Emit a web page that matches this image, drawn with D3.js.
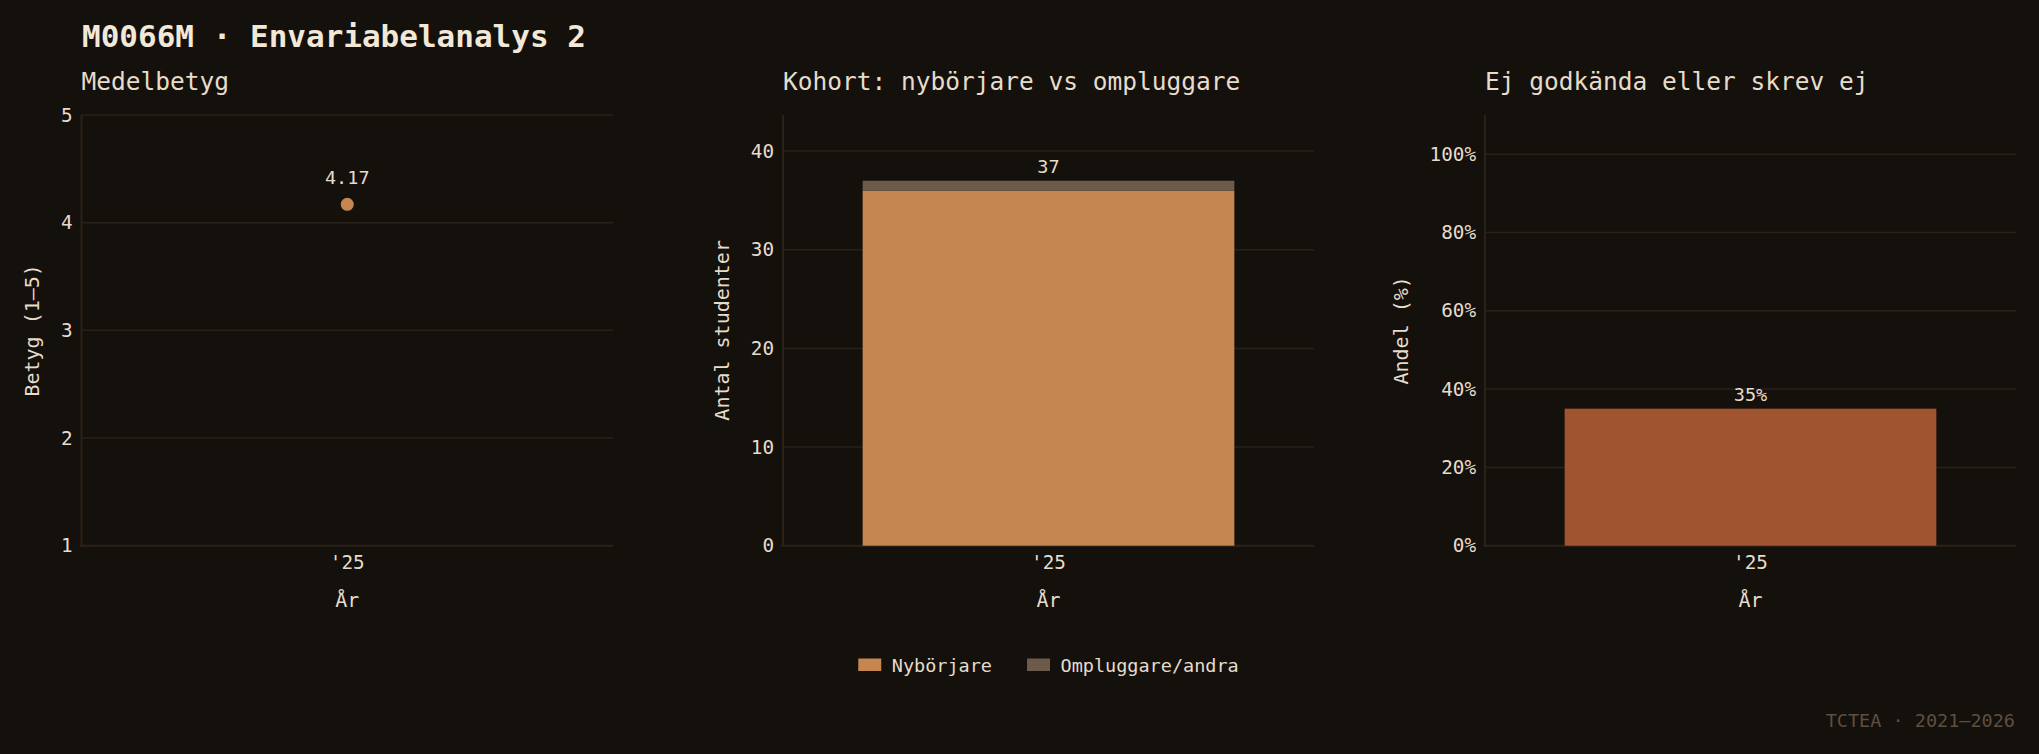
<!DOCTYPE html>
<html>
<head>
<meta charset="utf-8">
<script src="https://cdn.jsdelivr.net/npm/d3@7"></script>
<style>
  html, body { margin: 0; padding: 0; background: #14100b; }
  svg { display: block; }
  text { font-family: "DejaVu Sans Mono", monospace; }
</style>
</head>
<body>
<svg id="chart" width="2039" height="754"></svg>
<script>
// ---- Data ----
const years = ["'25"];
const meanGrade = [4.17];
const newcomers = [36];
const others = [1];
const failShare = [0.35];
const gradeTicks = [1, 2, 3, 4, 5];
const countTicks = [0, 10, 20, 30, 40];
const shareTicks = [0, 0.2, 0.4, 0.6, 0.8, 1.0];
const seriesNames = ["Nybörjare", "Ompluggare/andra"];

// ---- Style ----
const C = {
  bg: "#14100b", text: "#e6dccb", title: "#f2e8d8", grid: "#2a2119",
  orange: "#c6864f", brown: "#6c5b4a", red: "#a05430", footer: "#5e4f40"
};
const W = 2039, H = 754;
const plotTop = 115, plotBot = 545.7;
const panels = [
  { x0: 81.5, x1: 613 },
  { x0: 783, x1: 1314 },
  { x0: 1485, x1: 2016 }
];

const svg = d3.select("#chart");
svg.append("rect").attr("width", W).attr("height", H).attr("fill", C.bg);

svg.append("text").attr("x", 82).attr("y", 46.5)
  .attr("fill", C.title).attr("font-size", 31).attr("font-weight", "bold")
  .text("M0066M · Envariabelanalys 2");

function panelFrame(p, title, y, ticks, fmt, yTitle) {
  const g = svg.append("g");
  g.append("text").attr("x", p.x0).attr("y", 90).attr("fill", C.text)
    .attr("font-size", 24.5).text(title);
  // grid
  g.selectAll("line.grid").data(ticks).join("line")
    .attr("x1", p.x0).attr("x2", p.x1)
    .attr("y1", d => y(d)).attr("y2", d => y(d))
    .attr("stroke", C.grid).attr("stroke-width", 1.5);
  // axis
  const ax = g.append("g").attr("transform", `translate(${p.x0},0)`)
    .call(d3.axisLeft(y).tickValues(ticks).tickFormat(fmt).tickSize(0).tickPadding(9));
  ax.select(".domain").remove();
  ax.selectAll("text").attr("fill", C.text).attr("font-size", 19.3)
    .attr("font-family", "DejaVu Sans Mono");
  g.append("line").attr("x1", p.x0).attr("x2", p.x0)
    .attr("y1", plotTop).attr("y2", plotBot).attr("stroke", C.grid).attr("stroke-width", 2);
  g.append("line").attr("x1", p.x0 - 2).attr("x2", p.x1)
    .attr("y1", plotBot).attr("y2", plotBot).attr("stroke", C.grid).attr("stroke-width", 2);
  let minX = p.x0;
  ax.selectAll("text").each(function () {
    const b = this.getBBox();
    minX = Math.min(minX, p.x0 + b.x);
  });
  const cy = (plotTop + plotBot) / 2;
  g.append("text").attr("transform", `translate(${minX - 29},${cy}) rotate(-90)`)
    .attr("text-anchor", "middle").attr("dominant-baseline", "central")
    .attr("fill", C.text).attr("font-size", 20).text(yTitle);
  // x axis
  const x = d3.scaleBand().domain(years).range([p.x0, p.x1])
    .paddingInner(0.3).paddingOuter(0.15);
  g.selectAll("text.xt").data(years).join("text")
    .attr("x", d => x(d) + x.bandwidth() / 2).attr("y", 569)
    .attr("text-anchor", "middle").attr("fill", C.text).attr("font-size", 19.3).text(d => d);
  g.append("text").attr("x", (p.x0 + p.x1) / 2).attr("y", 607)
    .attr("text-anchor", "middle").attr("fill", C.text).attr("font-size", 20).text("År");
  return { g, x };
}

// Panel 1: mean grade
{
  const p = panels[0];
  const y = d3.scaleLinear().domain([1, 5]).range([plotBot, plotTop]);
  const { g, x } = panelFrame(p, "Medelbetyg", y, gradeTicks, d3.format("d"), "Betyg (1–5)");
  const pts = years.map((d, i) => ({ yr: d, v: meanGrade[i] }));
  g.selectAll("circle.pt").data(pts).join("circle")
    .attr("cx", d => x(d.yr) + x.bandwidth() / 2).attr("cy", d => y(d.v))
    .attr("r", 6.5).attr("fill", C.orange);
  g.selectAll("text.val").data(pts).join("text")
    .attr("x", d => x(d.yr) + x.bandwidth() / 2).attr("y", d => y(d.v) - 20)
    .attr("text-anchor", "middle").attr("fill", C.text).attr("font-size", 18.5)
    .text(d => d.v.toFixed(2));
}

// Panel 2: cohort stacked
{
  const p = panels[1];
  const maxTotal = d3.max(years.map((d, i) => newcomers[i] + others[i]));
  const y = d3.scaleLinear().domain([0, maxTotal * 1.18]).range([plotBot, plotTop]);
  const { g, x } = panelFrame(p, "Kohort: nybörjare vs ompluggare", y, countTicks, d3.format("d"), "Antal studenter");
  const rows = years.map((d, i) => ({ yr: d, "Nybörjare": newcomers[i], "Ompluggare/andra": others[i] }));
  const stack = d3.stack().keys(seriesNames)(rows);
  const colors = [C.orange, C.brown];
  stack.forEach((s, si) => {
    g.selectAll(null).data(s).join("rect")
      .attr("x", d => x(d.data.yr)).attr("width", x.bandwidth())
      .attr("y", d => y(d[1])).attr("height", d => y(d[0]) - y(d[1]))
      .attr("fill", colors[si]);
  });
  g.selectAll("text.val").data(rows).join("text")
    .attr("x", d => x(d.yr) + x.bandwidth() / 2)
    .attr("y", d => y(d["Nybörjare"] + d["Ompluggare/andra"]) - 8)
    .attr("text-anchor", "middle").attr("fill", C.text).attr("font-size", 18.5)
    .text(d => d["Nybörjare"] + d["Ompluggare/andra"]);

  // legend
  const lg = svg.append("g");
  let cx = 0;
  seriesNames.forEach((n, i) => {
    const it = lg.append("g").attr("transform", `translate(${cx},0)`);
    it.append("rect").attr("x", 0).attr("y", -6.5).attr("width", 23).attr("height", 12.5).attr("fill", colors[i]);
    const t = it.append("text").attr("x", 33.5).attr("y", 0).attr("dominant-baseline", "central")
      .attr("fill", C.text).attr("font-size", 18.5).text(n);
    const w = 33.5 + t.node().getComputedTextLength();
    cx += w + 35;
  });
  const totalW = cx - 35;
  lg.attr("transform", `translate(${(p.x0 + p.x1) / 2 - totalW / 2},665)`);
}

// Panel 3: fail share
{
  const p = panels[2];
  const y = d3.scaleLinear().domain([0, 1.1]).range([plotBot, plotTop]);
  const { g, x } = panelFrame(p, "Ej godkända eller skrev ej", y, shareTicks, d3.format(".0%"), "Andel (%)");
  const rows = years.map((d, i) => ({ yr: d, v: failShare[i] }));
  g.selectAll("rect.bar").data(rows).join("rect")
    .attr("x", d => x(d.yr)).attr("width", x.bandwidth())
    .attr("y", d => y(d.v)).attr("height", d => y(0) - y(d.v)).attr("fill", C.red);
  g.selectAll("text.val").data(rows).join("text")
    .attr("x", d => x(d.yr) + x.bandwidth() / 2).attr("y", d => y(d.v) - 8)
    .attr("text-anchor", "middle").attr("fill", C.text).attr("font-size", 18.5)
    .text(d => d3.format(".0%")(d.v));
}

svg.append("text").attr("x", 2015).attr("y", 727).attr("text-anchor", "end")
  .attr("fill", C.footer).attr("font-size", 18.5).text("TCTEA · 2021–2026");
</script>
</body>
</html>
